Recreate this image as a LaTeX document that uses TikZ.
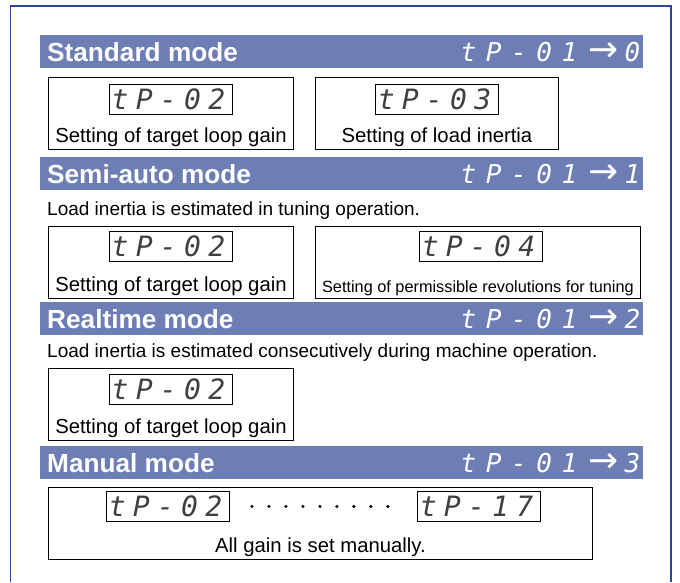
\documentclass[tikz,border=0pt]{standalone}
\usepackage{fontspec}
\setmainfont{Liberation Sans}
\newfontfamily\segfont{DejaVu Sans Mono}
\newfontfamily\arrowfont{DejaVu Sans}
\usepackage{tikz}
\usetikzlibrary{positioning}

\definecolor{barblue}{RGB}{108,126,180}
\definecolor{frameblue}{RGB}{48,68,155}

% arrow between parameter and value in the bar codes
\newcommand{\setto}{\hspace{11pt}{\fontsize{36}{28}\arrowfont →}\hspace{6pt}}
% display readout, set a little left of centre
\newcommand{\readout}[1]{#1\kern5pt}

\begin{document}
\begin{tikzpicture}[
    x=1pt, y=-1pt,
    node distance=7pt,
    modebar/.style={
        rectangle,
        fill=barblue,
        minimum width=603pt,
        minimum height=33pt,
        anchor=north west,
        inner sep=0pt
    },
    modetitle/.style={
        text=white,
        font=\fontsize{26.2}{28}\selectfont\bfseries,
        anchor=west,
        inner sep=0pt
    },
    modecode/.style={
        text=white,
        font=\fontsize{26}{28}\segfont\itshape\addfontfeature{LetterSpace=37},
        anchor=east,
        inner sep=0pt
    },
    panel/.style={
        rectangle,
        draw,
        line width=0.9pt,
        minimum height=72pt,
        anchor=north west,
        inner sep=0pt
    },
    display/.style={
        rectangle,
        draw,
        line width=0.9pt,
        minimum width=123pt,
        minimum height=30pt,
        inner sep=0pt,
        text=black!75,
        font=\fontsize{28}{28}\segfont\itshape\addfontfeature{LetterSpace=26}
    },
    caption/.style={
        font=\fontsize{20.3}{23}\selectfont,
        inner sep=0pt
    },
    note/.style={
        font=\fontsize{19}{22}\selectfont,
        anchor=base west,
        inner sep=0pt
    },
    dotrow/.style={
        line width=3.4pt,
        line cap=round,
        dash pattern=on 0pt off 16.99pt
    }
]
  \useasboundingbox (0,0) rectangle (680,582);

  % outer frame, open at the bottom
  \draw[frameblue, line width=1.8pt] (10.5,582) -- (10.5,6) -- (671,6) -- (671,582);

  % Standard mode
  \node[modebar] (stdbar) at (40,35) {};
  \node[modetitle] (stdtitle) at ([xshift=7pt]stdbar.west) {Standard mode};
  \node[modecode] (stdcode) at ([xshift=-3pt]stdbar.east) {tP-01\setto0};

  \node[panel, minimum width=245pt] (stdA) at (48,77) {};
  \node[display, below=7pt of stdA.north] (stdAdisp) {\readout{tP-02}};
  \node[caption, above=3pt of stdA.south] (stdAcap) {Setting of target loop gain};

  \node[panel, minimum width=243pt] (stdB) at (315,77) {};
  \node[display, below=7pt of stdB.north] (stdBdisp) {\readout{tP-03}};
  \node[caption, above=3pt of stdB.south] (stdBcap) {Setting of load inertia};

  % Semi-auto mode
  \node[modebar] (semibar) at (40,157) {};
  \node[modetitle] (semititle) at ([xshift=7pt]semibar.west) {Semi-auto mode};
  \node[modecode] (semicode) at ([xshift=-3pt]semibar.east) {tP-01\setto1};
  \node[note] (seminote) at (47,215) {Load inertia is estimated in tuning operation.};

  \node[panel, minimum width=245pt] (semiA) at (48,226) {};
  \node[display, below=5pt of semiA.north] (semiAdisp) {\readout{tP-02}};
  \node[caption, above=3pt of semiA.south] (semiAcap) {Setting of target loop gain};

  \node[panel, minimum width=325pt] (semiB) at (315,226) {};
  \node[display, below=5pt of semiB.north, xshift=3pt] (semiBdisp) {\readout{tP-04}};
  \node[caption, above=3pt of semiB.south, font=\fontsize{16.3}{19}\selectfont] (semiBcap)
    {Setting of permissible revolutions for tuning};

  % Realtime mode
  \node[modebar] (realbar) at (40,302) {};
  \node[modetitle] (realtitle) at ([xshift=7pt]realbar.west) {Realtime mode};
  \node[modecode] (realcode) at ([xshift=-3pt]realbar.east) {tP-01\setto2};
  \node[note] (realnote) at (47,357)
    {Load inertia is estimated consecutively during machine operation.};

  \node[panel, minimum width=245pt] (realA) at (48,368) {};
  \node[display, below=6pt of realA.north] (realAdisp) {\readout{tP-02}};
  \node[caption, above=3pt of realA.south] (realAcap) {Setting of target loop gain};

  % Manual mode
  \node[modebar] (manbar) at (40,446) {};
  \node[modetitle] (mantitle) at ([xshift=7pt]manbar.west) {Manual mode};
  \node[modecode] (mancode) at ([xshift=-3pt]manbar.east) {tP-01\setto3};

  \node[panel, minimum width=544pt] (manA) at (48,487) {};
  \node[display, anchor=north] (manfirst) at (168,491) {\readout{tP-02}};
  \node[display, anchor=north] (manlast) at (479,491) {\readout{tP-17}};
  \node[caption, above=3pt of manA.south] (mancap) {All gain is set manually.};

  \draw[dotrow, shorten <=22pt, shorten >=13pt] (manfirst.east) -- (manlast.west);
\end{tikzpicture}
\end{document}
